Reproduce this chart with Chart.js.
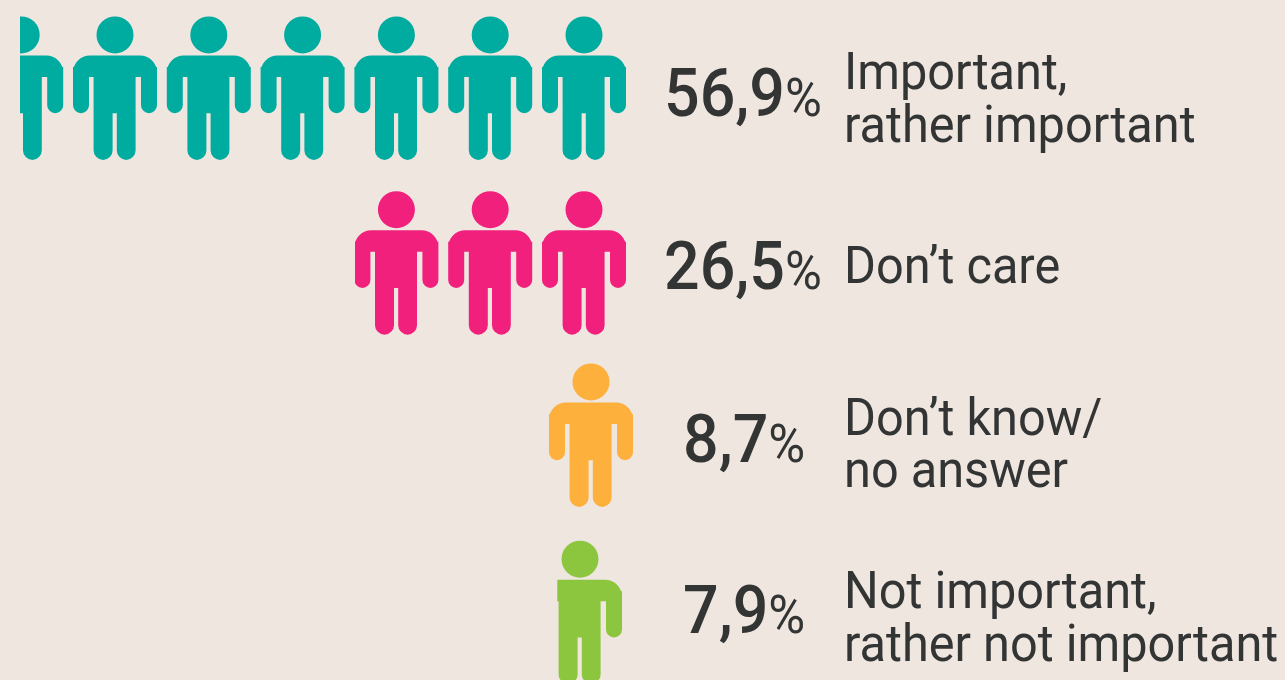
<!DOCTYPE html>
<html>
<head>
<meta charset="utf-8">
<style>
  html, body { margin: 0; padding: 0; background: #efe6e0; overflow: hidden; }
  #wrap { width: 1285px; height: 680px; overflow: hidden; }
</style>
<script src="https://cdn.jsdelivr.net/npm/chart.js@4"></script>
</head>
<body>
<div id="wrap"><canvas id="grafico" width="1285" height="700"></canvas></div>
<script>
const categories = [
  ['Important,', 'rather important'],
  ['Don’t care'],
  ['Don’t know/', 'no answer'],
  ['Not important,', 'rather not important']
];
const shares = [56.9, 26.5, 8.7, 7.9];
// how many little people each row shows
const peopleShown = [6.46, 2.889, 0.896, 0.69];
const colors = ['#00ab9f', '#f0207c', '#fdb03c', '#8cc63f'];

// layout, px
const pitch = 93.8;
const personW = 84;
const personH = 143;
const zeroX = 626;
const rowDx = [0, 0, 7, -4];
const rowDy = [0, 0, -2.5, 0];
const shareX = [664, 664, 683, 683];
const shareBase = [116, 289, 462, 633];
const labelX = 844;
const labelBase = [89, 283, 434.5, 608];
const lineGap = 52.5;
const textColor = '#333535';

function personPath(ctx, x, top) {
  ctx.moveTo(x + 60.5, top + 18);
  ctx.arc(x + 42, top + 18, 18.5, 0, Math.PI * 2);
  ctx.roundRect(x, top + 38.7, personW, 21.3, [17, 17, 0, 0]);
  ctx.roundRect(x, top + 50, 16, 46.3, [0, 0, 8, 8]);
  ctx.roundRect(x + 68, top + 50, 16, 46.3, [0, 0, 8, 8]);
  ctx.rect(x + 20.6, top + 50, 42, 46.3);
  ctx.roundRect(x + 20.6, top + 90, 19, 53, [0, 0, 9.5, 9.5]);
  ctx.roundRect(x + 43.8, top + 90, 18.8, 53, [0, 0, 9.4, 9.4]);
}

// the reference type is a bit narrower than plain Roboto
function squeezedText(ctx, txt, x, y, sx) {
  ctx.save();
  ctx.translate(x, y);
  ctx.scale(sx, 1);
  ctx.fillText(txt, 0, 0);
  const w = ctx.measureText(txt).width * sx;
  ctx.restore();
  return w;
}

// replaces the plain bars: each bar is filled with people, clipped at the bar's end
const peopleBars = {
  id: 'peopleBars',
  beforeDatasetDraw(chart, args) {
    const ctx = chart.ctx;
    args.meta.data.forEach((bar, i) => {
      const p = bar.getProps(['x', 'y', 'base'], true);
      const right = p.base + rowDx[i];
      const left = p.x + rowDx[i];
      const top = p.y + rowDy[i] - personH / 2;
      ctx.save();
      ctx.beginPath();
      ctx.rect(left, top - 2, right - left, personH + 4);
      ctx.clip();
      ctx.fillStyle = bar.options.backgroundColor;
      ctx.beginPath();
      for (let n = 0; n < Math.ceil(peopleShown[i]); n++) {
        personPath(ctx, right - personW - n * pitch, top);
      }
      ctx.fill();
      ctx.restore();
    });
    return false;
  }
};

const rowTexts = {
  id: 'rowTexts',
  afterDraw(chart) {
    const ctx = chart.ctx;
    ctx.save();
    ctx.fillStyle = textColor;
    ctx.textAlign = 'left';
    ctx.textBaseline = 'alphabetic';
    shares.forEach((v, i) => {
      const txt = v.toFixed(1).replace('.', ',');
      ctx.font = '500 66px Roboto';
      const w = squeezedText(ctx, txt, shareX[i], shareBase[i], 0.95);
      ctx.font = '400 53px Roboto';
      squeezedText(ctx, '%', shareX[i] + w, shareBase[i], 0.95);
      ctx.font = '400 51.5px Roboto';
      categories[i].forEach((line, k) => {
        squeezedText(ctx, line, labelX, labelBase[i] + k * lineGap, 0.945);
      });
    });
    ctx.restore();
  }
};

new Chart(document.getElementById('grafico'), {
  type: 'bar',
  data: {
    labels: categories.map(c => c.join(' ')),
    datasets: [{
      data: peopleShown,
      backgroundColor: colors,
      categoryPercentage: 1,
      barPercentage: 1
    }]
  },
  options: {
    indexAxis: 'y',
    responsive: false,
    animation: false,
    layout: { padding: { top: 1 } },
    plugins: { legend: { display: false }, tooltip: { enabled: false } },
    scales: {
      x: {
        display: false,
        reverse: true,
        min: -(1285 - zeroX) / pitch,
        max: zeroX / pitch
      },
      y: { display: false }
    }
  },
  plugins: [peopleBars, rowTexts]
});
</script>
</body>
</html>
